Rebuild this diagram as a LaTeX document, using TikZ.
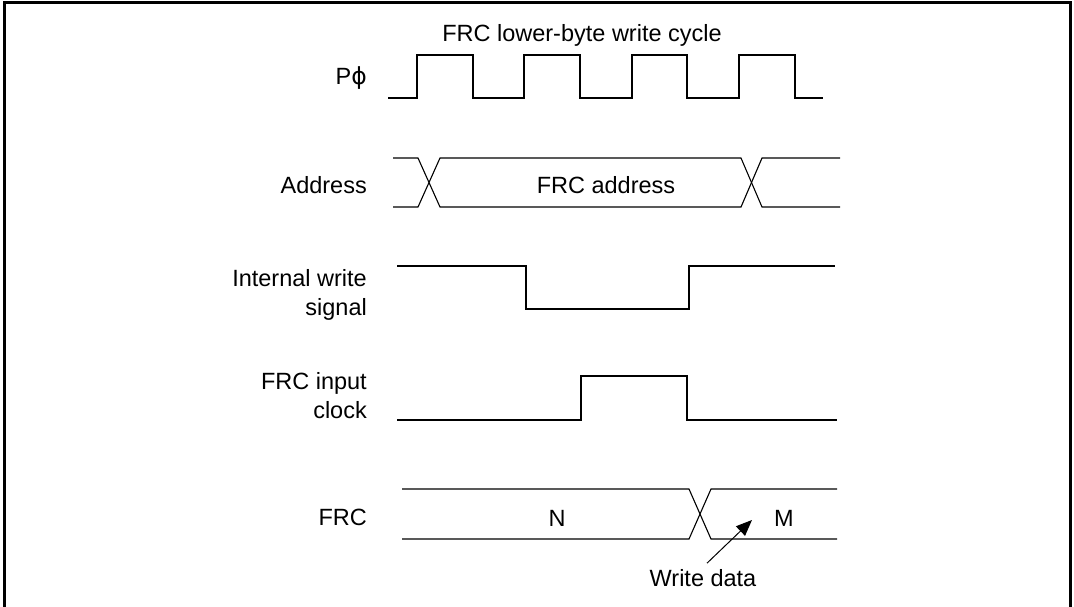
\documentclass[tikz,border=0pt]{standalone}
\usepackage{fontspec}
\setmainfont{Liberation Sans}
\newfontfamily\greekfont{DejaVu Sans}
\usepackage{tikz}
\usetikzlibrary{arrows.meta,positioning}

\begin{document}
\begin{tikzpicture}[x=1pt,y=-1pt,font=\fontsize{23.5}{29}\selectfont,
  lbl/.style={anchor=east,align=right,inner sep=0pt},
  txt/.style={inner sep=0pt},
  wave/.style={line width=1.1pt,line join=miter},
  frame/.style={line width=3pt},
  wr/.style={-{Triangle[length=16pt,width=13pt]},line width=1pt}]
  \useasboundingbox (0,0) rectangle (1074,606);
  \draw[frame] (4,608) -- (4,2) -- (1070,2) -- (1070,608);
  \node[txt] (title) at (582,35) {FRC lower-byte write cycle};
  \node[lbl] (lphi) at (367,78) {P{\greekfont ϕ}};
  \node[lbl] (laddr) at (367,185) {Address};
  \node[lbl] (lwr) at (367,295) {Internal write\\signal};
  \node[lbl] (lclk) at (367,396) {FRC input\\clock};
  \node[lbl] (lfrc) at (367,517) {FRC};
  \draw[wave] (388,98) -- (417,98) -- (417,55) -- (473,55) -- (473,98) -- (524,98) -- (524,55) -- (580,55) -- (580,98)
    -- (632,98) -- (632,55) -- (687,55) -- (687,98) -- (739,98) -- (739,55) -- (795,55) -- (795,98) -- (823,98);
  \draw[wave] (393,158) -- (418,158) -- (440,207) -- (741,207) -- (762,158) -- (840,158);
  \draw[wave] (393,207) -- (418,207) -- (440,158) -- (741,158) -- (762,207) -- (840,207);
  \node[txt] (addr) at (606,185) {FRC address};
  \draw[wave] (397,266) -- (526,266) -- (526,309) -- (689,309) -- (689,266) -- (835,266);
  \draw[wave] (397,420) -- (581,420) -- (581,376) -- (687,376) -- (687,420) -- (837,420);
  \draw[wave] (402,489) -- (689,489) -- (711,539) -- (837,539);
  \draw[wave] (402,539) -- (689,539) -- (711,489) -- (837,489);
  \node[txt] (valn) at (557,518) {N};
  \node[txt] (valm) at (784,518) {M};
  \node[txt] (wd) at (703,578) {Write data};
  \coordinate (wtip) at (752,520);
  \draw[wr] ([xshift=4pt,yshift=6pt]wd.north) -- (wtip);
\end{tikzpicture}
\end{document}
